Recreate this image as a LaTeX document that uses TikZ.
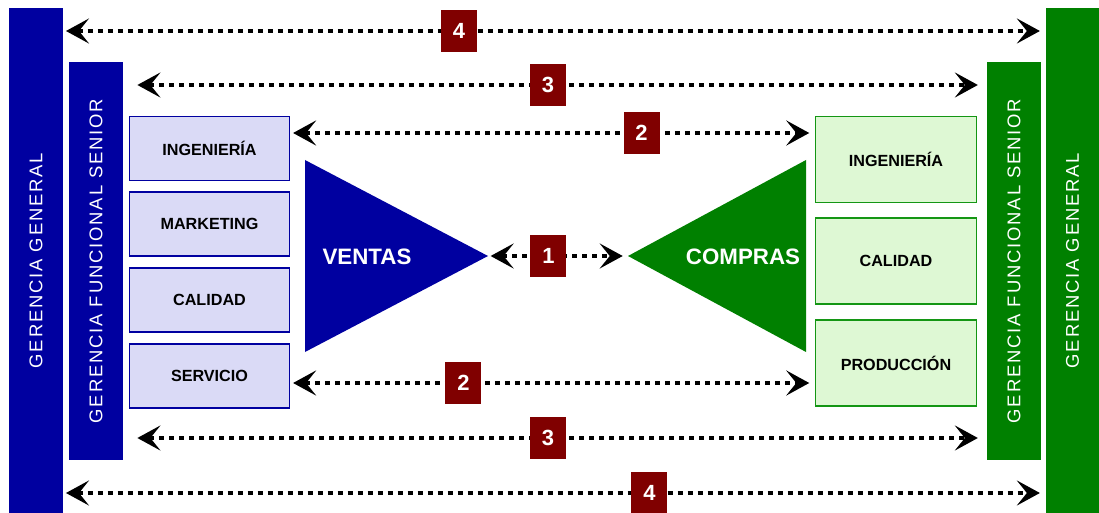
\documentclass[tikz,border=0pt]{standalone}
\usepackage{fontspec}
\setmainfont{Liberation Sans}
\newfontfamily\barfont[LetterSpace=10]{Liberation Sans}
\usepackage{tikz}
\usetikzlibrary{positioning, arrows.meta}
\definecolor{azul}{RGB}{0,0,160}
\definecolor{azulclaro}{RGB}{218,218,246}
\definecolor{verde}{RGB}{0,128,0}
\definecolor{verdeborde}{RGB}{20,150,20}
\definecolor{verdeclaro}{RGB}{222,248,212}
\definecolor{granate}{RGB}{128,0,0}
\tikzset{bar/.style={rectangle, minimum width=1.08cm, inner sep=0pt}}
\tikzset{bartext/.style={rotate=90, text=white, font=\barfont\fontsize{10.5}{12}\selectfont}}
\tikzset{area/.style={rectangle, draw=azul, fill=azulclaro, line width=1.1pt, minimum width=3.2cm,
 minimum height=1.28cm, text centered, font=\bfseries\fontsize{9.2}{11}\selectfont}}
\tikzset{areav/.style={area, draw=verdeborde, fill=verdeclaro, minimum width=3.22cm, minimum height=1.72cm}}
\tikzset{numbox/.style={rectangle, fill=granate, text=white, minimum width=0.72cm, minimum height=0.86cm,
 inner sep=0pt, font=\bfseries\fontsize{12.5}{14}\selectfont}}
\tikzset{tritext/.style={text=white, font=\bfseries\fontsize{12.7}{15}\selectfont}}
\tikzset{line/.style={draw, line width=0.08cm, dash pattern=on 0.1cm off 0.1cm,
 >={Stealth[length=0.46cm, width=0.5cm, inset=0.2cm]}, <->, shorten <=1.5pt, shorten >=3pt}}

\begin{document}
\begin{tikzpicture}[x=0.02cm, y=-0.02cm]
\useasboundingbox (0,0) rectangle (1099,513);
        \node[bar, fill=azul, minimum height=10.1cm, label={[bartext]center:GERENCIA GENERAL}]   (genL) at (36,260.5) {};
        \node[bar, fill=azul, minimum height=7.96cm, label={[bartext]center:GERENCIA FUNCIONAL SENIOR}]   (funL) at (96,261) {};
        \node[bar, fill=verde, minimum height=10.1cm, label={[bartext]center:GERENCIA GENERAL}]   (genR) at (1072.5,260.5) {};
        \node[bar, fill=verde, minimum height=7.96cm, label={[bartext]center:GERENCIA FUNCIONAL SENIOR}]   (funR) at (1014,261) {};
        \node[area] (ingL) at (209.5,148.5) {INGENIERÍA};
        \node[area, below =0.2cm of ingL] (mktL) {MARKETING};
        \node[area, below =0.2cm of mktL] (calL) {CALIDAD};
        \node[area, below =0.2cm of calL] (serL) {SERVICIO};
        \node[areav] (ingR) at (896,159.5) {INGENIERÍA};
        \node[areav, below =0.28cm of ingR] (calR) {CALIDAD};
        \node[areav, below =0.28cm of calR] (proR) {PRODUCCIÓN};
        \coordinate (vtop) at (305,160);
        \coordinate (vapex) at (488,256);
        \coordinate (vbot) at (305,352);
        \coordinate (ctop) at (806,160);
        \coordinate (capex) at (628,256);
        \coordinate (cbot) at (806,352);
        \fill[azul] (vtop) -- (vapex) -- (vbot) -- cycle;
        \fill[verde] (ctop) -- (capex) -- (cbot) -- cycle;
        \node[tritext] (ventas) at (367,257) {VENTAS};
        \node[tritext] (compras) at (743,257) {COMPRAS};
        \coordinate (f4a) at (0,31);
        \coordinate (f3a) at (0,85);
        \coordinate (f2a) at (0,133);
        \coordinate (f2b) at (0,383);
        \coordinate (f3b) at (0,438);
        \coordinate (f4b) at (0,493);
        \path[line] (genL.east |- f4a) -- node[numbox, pos=.403]{4} (genR.west |- f4a);
        \path[line, shorten <=8pt, shorten >=5pt] (funL.east |- f3a) -- node[numbox, pos=.492]{3} (funR.west |- f3a);
        \path[line] (ingL.east |- f2a) -- node[numbox, pos=.67]{2} (ingR.west |- f2a);
        \path[line] (vapex) -- node[numbox, pos=.432]{1} (capex);
        \path[line] (serL.east |- f2b) -- node[numbox, pos=.33]{2} (proR.west |- f2b);
        \path[line, shorten <=8pt, shorten >=5pt] (funL.east |- f3b) -- node[numbox, pos=.492]{3} (funR.west |- f3b);
        \path[line] (genL.east |- f4b) -- node[numbox, pos=.597]{4} (genR.west |- f4b);
\end{tikzpicture}
\end{document}
